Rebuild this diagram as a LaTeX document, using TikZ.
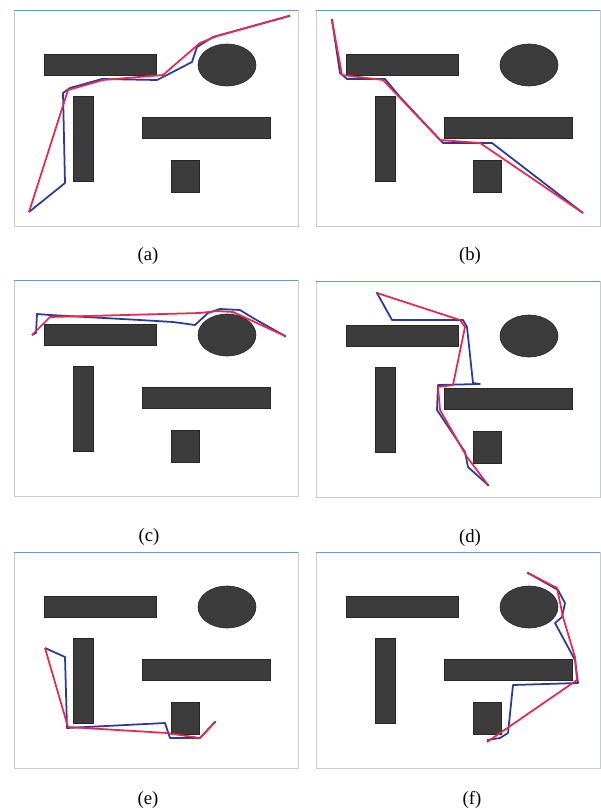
\documentclass[tikz,border=0pt]{standalone}
\usepackage{fontspec}
\setmainfont{Liberation Serif}
\definecolor{cobst}{HTML}{3C3C3C}
\definecolor{cred}{HTML}{E8284E}
\definecolor{cblue}{HTML}{2A3A9C}
\definecolor{cframe}{HTML}{C8CCD0}
\definecolor{cedge}{HTML}{6A98CC}
\definecolor{cgoal}{HTML}{4A6A2A}
\tikzset{
  obst/.style={draw=black!85, fill=cobst, line width=0.5pt},
  arena/.style={draw=cframe, line width=0.6pt},
  rpath/.style={draw=cred, line width=1.5pt, line join=round},
  bpath/.style={draw=cblue, line width=1.5pt, line join=round},
  tag/.style={font=\fontsize{16}{18}\selectfont},
  goal/.style={fill=cgoal},
}

\begin{document}
\begin{tikzpicture}[x=0.03cm, y=-0.03cm]
  \useasboundingbox (0,0) rectangle (601,808);
  % the six arenas, same obstacles in each
  \foreach \ox/\oy/\t/\lx/\ly in {14/10/a/148/256, 316/10/b/470/256, 14/280/c/149/537,
                                  316/281/d/470/538, 14/552/e/148/800, 316/552/f/472/800} {
    \begin{scope}[shift={(\ox,\oy)}]
      \draw[arena] (0,0) rectangle (284,216);
      \draw[cedge, line width=0.8pt] (0,0) -- (284,0);
      \filldraw[obst] (30,44) rectangle (142,65);
      \filldraw[obst] (213,55) ellipse [x radius=29, y radius=21];
      \filldraw[obst] (59,86) rectangle (79,171);
      \filldraw[obst] (128,107) rectangle (256,128);
      \filldraw[obst] (157,150) rectangle (185,182);
    \end{scope}
    \node[tag] (lab\t) at (\lx,\ly) {(\t)};
  }
  % (a)
  \draw[bpath] (29,212) -- (65,183) -- (63,93) -- (70,88) -- (102,79) -- (157,80) -- (167,75)
    -- (192,62) -- (197,47) -- (213,37) -- (289,16);
  \draw[rpath] (29,212) -- (68,90) -- (103,80) -- (163,75) -- (200,43) -- (217,36) -- (289,16);
  \fill[goal] (289,16) circle (1.5);
  % (b)
  \draw[bpath] (332,20) -- (340,73) -- (347,79) -- (385,79) -- (400,97) -- (443,143) -- (492,143) -- (583,213);
  \draw[rpath] (332,20) -- (342,75) -- (383,80) -- (440,140) -- (480,143) -- (583,213);
  \fill[goal] (332,20) circle (1.5);
  % (c)
  \draw[bpath] (32,335) -- (36,333) -- (37,314) -- (50,315) -- (140,320) -- (173,322) -- (195,325)
    -- (208,313) -- (220,309) -- (240,310) -- (253,318) -- (285,336);
  \draw[rpath] (32,335) -- (50,317) -- (200,313) -- (217,311) -- (233,312) -- (285,336);
  \fill[goal] (285,336) circle (1.5);
  % (d)
  \draw[bpath] (377,293) -- (392,320) -- (463,320) -- (467,327) -- (473,383) -- (480,384) -- (438,385)
    -- (437,410) -- (465,452) -- (468,467) -- (488,485);
  \draw[rpath] (377,293) -- (460,320) -- (465,327) -- (453,385) -- (438,387) -- (440,410) -- (467,457) -- (488,485);
  \fill[goal] (377,293) circle (1.5);
  \fill[goal] (488,485) circle (1.5);
  % (e)
  \draw[bpath] (45,648) -- (65,657) -- (67,728) -- (165,723) -- (170,738) -- (200,738) -- (215,722);
  \draw[rpath] (45,648) -- (68,727) -- (167,733) -- (200,738) -- (215,722);
  \fill[goal] (215,722) circle (1.5);
  % (f)
  \draw[bpath] (528,573) -- (558,590) -- (565,603) -- (562,617) -- (555,623) -- (575,660) -- (578,683)
    -- (513,685) -- (508,733) -- (500,738) -- (487,740);
  \draw[rpath] (528,573) -- (557,588) -- (563,617) -- (575,657) -- (577,680) -- (487,742);
  \fill[goal] (528,573) circle (1.5);
\end{tikzpicture}
\end{document}
